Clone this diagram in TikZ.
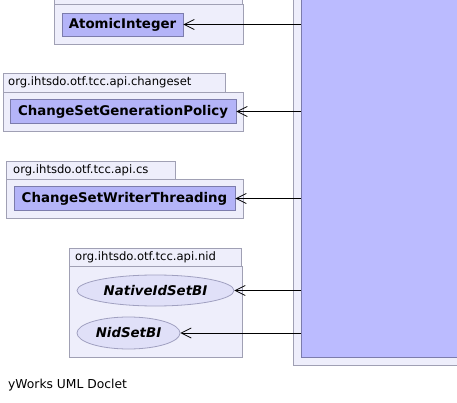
\documentclass[tikz,border=0pt]{standalone}
\usepackage{fontspec}
\setmainfont{DejaVu Sans}
\usetikzlibrary{arrows.meta,shapes.geometric}
\definecolor{pkgfill}{HTML}{EEEEFB}
\definecolor{pkgdraw}{HTML}{A0A0B4}
\definecolor{clsfill}{HTML}{B4B4F8}
\definecolor{clsdraw}{HTML}{7C7CAC}
\definecolor{bigfill}{HTML}{BBBBFF}
\definecolor{ellfill}{HTML}{E0E0F8}
\definecolor{elldraw}{HTML}{A0A0C0}
\tikzset{
  pkg/.style={draw=pkgdraw, fill=pkgfill, line width=0.9pt, inner sep=0pt, rectangle},
  pkglabel/.style={anchor=west, inner sep=0pt, font=\fontsize{11.6}{14}\selectfont},
  cls/.style={draw=clsdraw, fill=clsfill, line width=0.9pt, inner sep=0pt, rectangle, font=\fontsize{13.35}{15}\selectfont\bfseries},
  iface/.style={draw=elldraw, fill=ellfill, line width=0.8pt, inner sep=0pt, ellipse, font=\fontsize{13.35}{15}\selectfont\bfseries\itshape},
  dep/.style={draw=black, line width=0.9pt, -{Straight Barb[length=10pt,width=10pt,line width=0.8pt]}},
}
\begin{document}
\begin{tikzpicture}[x=1pt,y=-1pt]
\clip (0,0) rectangle (457,403);
\useasboundingbox (0,0) rectangle (457,403);
% big box on the right
\node[pkg, minimum width=177pt, minimum height=375pt] (outer) at (381.5,177.5) {};
\node[draw=clsdraw, fill=bigfill, line width=0.9pt, inner sep=0pt, minimum width=169pt, minimum height=367pt] (inner) at (385.5,173.5) {};
% package java.util.concurrent.atomic
\node[pkg, minimum width=188pt, minimum height=18pt] (tab1) at (148,-5) {};
\node[pkglabel] (tab1l) at (59,-6) {java.util.concurrent.atomic};
\node[pkg, minimum width=189pt, minimum height=40pt] (body1) at (148.5,24) {};
\node[cls, minimum width=121pt, minimum height=23pt] (ai) at (122.5,24.5) {AtomicInteger};
% package changeset
\node[pkg, minimum width=222pt, minimum height=19pt] (tab2) at (114,82.5) {};
\node[pkglabel] (tab2l) at (8,82.5) {org.ihtsdo.otf.tcc.api.changeset};
\node[pkg, minimum width=240pt, minimum height=39pt] (body2) at (123,111.5) {};
\node[cls, minimum width=226pt, minimum height=24pt] (csgp) at (123,111.5) {ChangeSetGenerationPolicy};
% package cs
\node[pkg, minimum width=169pt, minimum height=18pt] (tab3) at (90.5,170) {};
\node[pkglabel] (tab3l) at (13,170) {org.ihtsdo.otf.tcc.api.cs};
\node[pkg, minimum width=237pt, minimum height=39pt] (body3) at (124.5,198.5) {};
\node[cls, minimum width=221pt, minimum height=24pt] (cswt) at (124.5,198.5) {ChangeSetWriterThreading};
% package nid
\node[pkg, minimum width=172pt, minimum height=18pt] (tab4) at (155,257) {};
\node[pkglabel] (tab4l) at (75,257) {org.ihtsdo.otf.tcc.api.nid};
\node[pkg, minimum width=173pt, minimum height=91pt] (body4) at (155.5,311.5) {};
\node[iface, minimum width=157pt, minimum height=31pt] (nis) at (155.5,290.5) {NativeIdSetBI};
\node[iface, minimum width=103pt, minimum height=32pt] (nid) at (128.5,333) {NidSetBI};
% dependencies
\draw[dep] (ai.east -| inner.west) -- (ai.east);
\draw[dep] (csgp.east -| inner.west) -- (csgp.east);
\draw[dep] (cswt.east -| inner.west) -- (cswt.east);
\draw[dep] (nis.east -| inner.west) -- (nis.east);
\draw[dep] (nid.east -| inner.west) -- (nid.east);
% footer
\node[pkglabel, font=\fontsize{12.3}{14}\selectfont] (foot) at (8,385) {yWorks UML Doclet};
\end{tikzpicture}
\end{document}
